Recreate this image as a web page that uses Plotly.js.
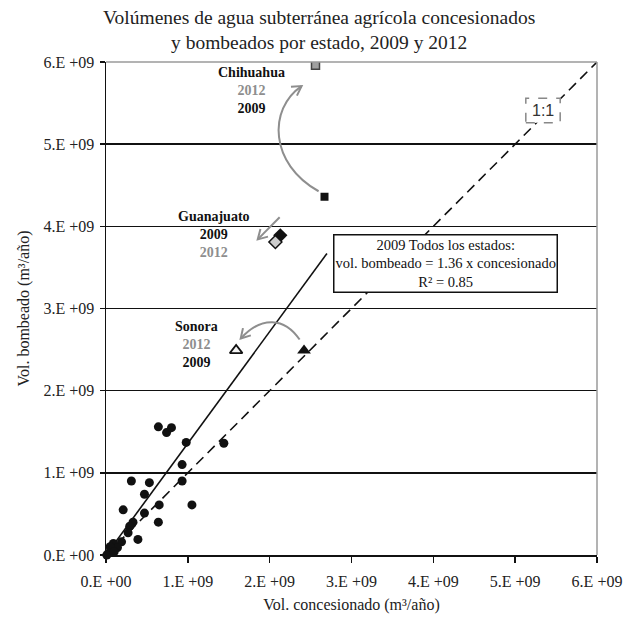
<!DOCTYPE html>
<html>
<head>
<meta charset="utf-8">
<script src="https://cdn.plot.ly/plotly-3.0.1.min.js"></script>
<style>html,body{margin:0;padding:0;background:#fff;}#chart{width:637px;height:619px;}</style>
</head>
<body>
<div id="chart"></div>
<script>
// ---- Data (m3/año) ----
const statesX = [0.64e9,0.74e9,0.80e9,0.98e9,1.44e9,0.93e9,0.93e9,0.31e9,0.53e9,0.47e9,0.21e9,0.65e9,1.05e9,0.47e9,0.64e9,0.33e9,0.29e9,0.27e9,0.39e9,0.19e9,0.09e9,0.14e9,0.07e9,0.03e9,0.01e9,0.05e9,0.10e9];
const statesY = [1.56e9,1.49e9,1.55e9,1.37e9,1.36e9,1.10e9,0.90e9,0.90e9,0.88e9,0.74e9,0.55e9,0.61e9,0.61e9,0.51e9,0.40e9,0.40e9,0.35e9,0.27e9,0.19e9,0.16e9,0.14e9,0.09e9,0.06e9,0.02e9,0.00e9,0.10e9,0.04e9];

const chihuahua2009 = {x: [2.67e9], y: [4.36e9]};
const chihuahua2012 = {x: [2.56e9], y: [5.96e9]};
const guanajuato2009 = {x: [2.13e9], y: [3.89e9]};
const guanajuato2012 = {x: [2.07e9], y: [3.81e9]};
const sonora2009 = {x: [2.42e9], y: [2.49e9]};
const sonora2012 = {x: [1.59e9], y: [2.49e9]};

const fitX = [0, 2.70e9];
const fitY = [0, 3.67e9];
const oneToOneX = [0, 6e9];
const oneToOneY = [0, 6e9];

const tickVals = [0, 1e9, 2e9, 3e9, 4e9, 5e9, 6e9];
const tickText = ['0.E +00','1.E +09','2.E +09','3.E +09','4.E +09','5.E +09','6.E +09'];

// ---- helpers ----
const SERIF = 'Liberation Serif, Times New Roman, serif';
const GRAY = '#8e8e8e';
function head(tx, ty, fx, fy, L) {
  const dx = fx - tx, dy = fy - ty, n = Math.hypot(dx, dy);
  const ux = dx / n, uy = dy / n, a = 30 * Math.PI / 180;
  const r1x = ux * Math.cos(a) - uy * Math.sin(a), r1y = ux * Math.sin(a) + uy * Math.cos(a);
  const r2x = ux * Math.cos(-a) - uy * Math.sin(-a), r2y = ux * Math.sin(-a) + uy * Math.cos(-a);
  return `M ${tx + L * r1x},${ty + L * r1y} L ${tx},${ty} L ${tx + L * r2x},${ty + L * r2y}`;
}
const arrowLine = {color: GRAY, width: 2};

const traces = [
  {x: oneToOneX, y: oneToOneY, mode: 'lines', line: {color: '#111', width: 1.6, dash: '10px,6px'}, hoverinfo: 'skip'},
  {x: fitX, y: fitY, mode: 'lines', line: {color: '#111', width: 1.6}, hoverinfo: 'skip'},
  {x: statesX, y: statesY, mode: 'markers', marker: {color: '#111', size: 9}, cliponaxis: false},
  {x: chihuahua2012.x, y: chihuahua2012.y, mode: 'markers', marker: {symbol: 'square', color: '#a0a0a0', size: 8, line: {color: '#444', width: 1.5}}},
  {x: chihuahua2009.x, y: chihuahua2009.y, mode: 'markers', marker: {symbol: 'square', color: '#111', size: 8}},
  {x: guanajuato2009.x, y: guanajuato2009.y, mode: 'markers', marker: {symbol: 'diamond', color: '#111', size: 11}},
  {x: guanajuato2012.x, y: guanajuato2012.y, mode: 'markers', marker: {symbol: 'diamond', color: '#cccccc', size: 10, line: {color: '#111', width: 1.5}}},
  {x: sonora2012.x, y: sonora2012.y, mode: 'markers', marker: {symbol: 'triangle-up', color: '#f4f4f4', size: 11, line: {color: '#111', width: 1.8}}},
  {x: sonora2009.x, y: sonora2009.y, mode: 'markers', marker: {symbol: 'triangle-up', color: '#111', size: 12}}
];

// arrows (decoration paths in data units)
const chP0 = [2.598e9, 4.427e9], chC1 = [2.0e9, 4.756e9], chC2 = [1.976e9, 5.427e9], chP3 = [2.39e9, 5.707e9];
const soP0 = [2.366e9, 2.622e9], soC1 = [2.183e9, 2.89e9], soC2 = [1.902e9, 2.915e9], soP3 = [1.646e9, 2.634e9];
const guP0 = [2.122e9, 4.11e9], guP1 = [1.854e9, 3.841e9];
const HL = 0.13e9;

const shapes = [
  {type: 'path', xref: 'x', yref: 'y', line: arrowLine,
   path: `M ${chP0[0]},${chP0[1]} C ${chC1[0]},${chC1[1]} ${chC2[0]},${chC2[1]} ${chP3[0]},${chP3[1]}`},
  {type: 'path', xref: 'x', yref: 'y', line: arrowLine, path: head(chP3[0], chP3[1], chC2[0] + (chP3[0]-chC2[0])*0.3, chC2[1] + (chP3[1]-chC2[1])*0.3, HL)},
  {type: 'path', xref: 'x', yref: 'y', line: arrowLine,
   path: `M ${soP0[0]},${soP0[1]} C ${soC1[0]},${soC1[1]} ${soC2[0]},${soC2[1]} ${soP3[0]},${soP3[1]}`},
  {type: 'path', xref: 'x', yref: 'y', line: arrowLine, path: head(soP3[0], soP3[1], soC2[0], soC2[1], HL)},
  {type: 'path', xref: 'x', yref: 'y', line: arrowLine, path: `M ${guP0[0]},${guP0[1]} L ${guP1[0]},${guP1[1]}`},
  {type: 'path', xref: 'x', yref: 'y', line: arrowLine, path: head(guP1[0], guP1[1], guP0[0], guP0[1], HL)},
  // 1:1 dashed box
  {type: 'rect', xref: 'x', yref: 'y', x0: 5.13e9, x1: 5.55e9, y0: 5.26e9, y1: 5.56e9,
   line: {color: '#888', width: 1.5, dash: 'dash'}, fillcolor: '#fff', layer: 'above'},
  // plot frame top/right (gray)
  {type: 'line', xref: 'paper', yref: 'paper', x0: 0, x1: 1, y0: 1, y1: 1, line: {color: '#9a9a9a', width: 1.5}, layer: 'above'},
  {type: 'line', xref: 'paper', yref: 'paper', x0: 1, x1: 1, y0: 0, y1: 1, line: {color: '#9a9a9a', width: 1.5}, layer: 'above'}
];

const annotations = [
  {xref: 'paper', yref: 'paper', x: 0.4328, y: 1, xanchor: 'center', yanchor: 'bottom', yshift: 7, showarrow: false, align: 'center',
   text: 'Volúmenes de agua subterránea agrícola concesionados<br>y bombeados por estado, 2009 y 2012',
   font: {family: SERIF, size: 19.5, color: '#222'}},
  {x: 1.78e9, y: 5.65e9, xref: 'x', yref: 'y', showarrow: false, align: 'center',
   text: `<b>Chihuahua</b><br><b><span style="color:${GRAY}">2012</span></b><br><b>2009</b>`,
   font: {family: SERIF, size: 14, color: '#111'}},
  {x: 1.32e9, y: 3.90e9, xref: 'x', yref: 'y', showarrow: false, align: 'center',
   text: `<b>Guanajuato</b><br><b>2009</b><br><b><span style="color:${GRAY}">2012</span></b>`,
   font: {family: SERIF, size: 14, color: '#111'}},
  {x: 1.10e9, y: 2.56e9, xref: 'x', yref: 'y', showarrow: false, align: 'center',
   text: `<b>Sonora</b><br><b><span style="color:${GRAY}">2012</span></b><br><b>2009</b>`,
   font: {family: SERIF, size: 14, color: '#111'}},
  {x: 4.146e9, y: 3.55e9, xref: 'x', yref: 'y', showarrow: false, align: 'center',
   text: '2009 Todos los estados:<br>vol. bombeado = 1.36 x concesionado<br>R² = 0.85',
   font: {family: SERIF, size: 14.5, color: '#111'}, bgcolor: '#fff', bordercolor: '#111', borderwidth: 1.5, borderpad: 1},
  {x: 5.34e9, y: 5.41e9, xref: 'x', yref: 'y', showarrow: false, text: '1:1',
   font: {family: 'Liberation Sans, Arial, sans-serif', size: 16, color: '#333'}}
];

const layout = {
  width: 637, height: 619,
  margin: {l: 106, r: 40, t: 62, b: 64},
  paper_bgcolor: '#fff', plot_bgcolor: '#fff',
  showlegend: false,
  font: {family: SERIF, color: '#111'},
  xaxis: {range: [0, 6e9], tickvals: tickVals, ticktext: tickText, showgrid: false, zeroline: false,
          showline: true, linecolor: '#111', linewidth: 1.5, ticks: 'outside', ticklen: 6, tickcolor: '#111', tickwidth: 1.5,
          ticklabelstandoff: 5,
          tickfont: {family: SERIF, size: 16, color: '#222'},
          title: {text: 'Vol. concesionado (m³/año)', font: {family: SERIF, size: 16, color: '#222'}, standoff: 10}},
  yaxis: {range: [0, 6e9], tickvals: tickVals, ticktext: tickText, showgrid: true, gridcolor: '#111', gridwidth: 1.5, zeroline: false,
          showline: true, linecolor: '#111', linewidth: 1.5, ticks: 'outside', ticklen: 5, tickcolor: '#111', tickwidth: 1.5,
          ticklabelstandoff: 2,
          tickfont: {family: SERIF, size: 16, color: '#222'},
          title: {text: 'Vol. bombeado (m³/año)', font: {family: SERIF, size: 16, color: '#222'}, standoff: 10}},
  shapes: shapes,
  annotations: annotations
};

Plotly.newPlot('chart', traces, layout, {staticPlot: true, displayModeBar: false});
</script>
</body>
</html>
